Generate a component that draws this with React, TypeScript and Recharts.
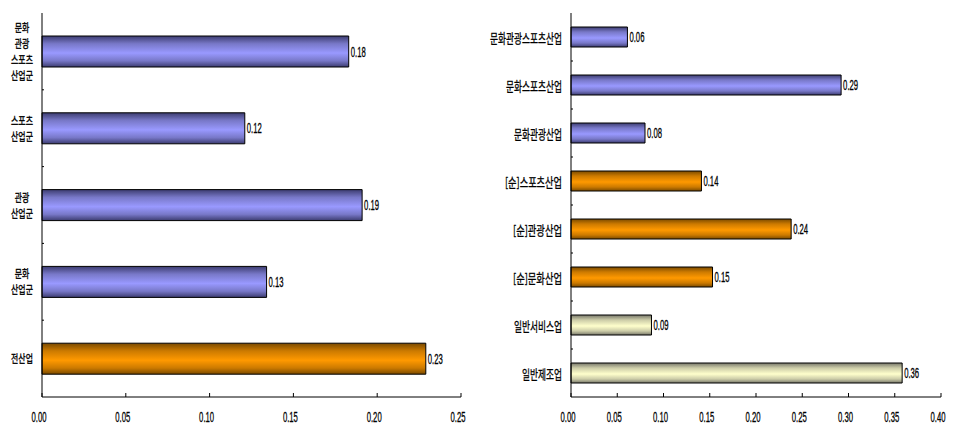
import React from 'react'
import { Bar, BarChart, Cell, LabelList, XAxis, YAxis } from 'recharts'

// 왼쪽: 산업군별
const leftCategories = ['문화\n관광\n스포츠\n산업군', '스포츠\n산업군', '관광\n산업군', '문화\n산업군', '전산업']
const leftValues = [0.183, 0.121, 0.191, 0.134, 0.229]
const leftKinds = ['blue', 'blue', 'blue', 'blue', 'orange']
const leftTicks = [0, 0.05, 0.1, 0.15, 0.2, 0.25]

// 오른쪽: 세부 산업
const rightCategories = [
  '문화관광스포츠산업',
  '문화스포츠산업',
  '문화관광산업',
  '[순]스포츠산업',
  '[순]관광산업',
  '[순]문화산업',
  '일반서비스업',
  '일반제조업',
]
const rightValues = [0.061, 0.292, 0.08, 0.141, 0.238, 0.153, 0.087, 0.358]
const rightKinds = ['blue', 'blue', 'blue', 'orange', 'orange', 'orange', 'cream', 'cream']
const rightTicks = [0, 0.05, 0.1, 0.15, 0.2, 0.25, 0.3, 0.35, 0.4]

const CHART_W = 480
const CHART_H = 440
const TOP = 13
const X_AXIS_H = 43
const PLOT_H = CHART_H - TOP - X_AXIS_H

const KO_FONT = '"Noto Sans CJK KR", sans-serif'
const NUM_FONT = '"Liberation Sans", Arial, sans-serif'

const palette: Record<string, [string, string, string]> = {
  blue: ['#3c3c70', '#7878c8', '#9999ff'],
  orange: ['#7a4a00', '#cc7a00', '#ff9900'],
  cream: ['#77776a', '#cccca8', '#ffffcc'],
}

// 좁은 글꼴 흉내: 글자 폭 추정
const textWidth = (s: string) => {
  let w = 0
  for (const ch of s) {
    if (/[0-9]/.test(ch)) w += 4.2
    else if (ch === '.') w += 2.4
    else if (ch === '[' || ch === ']') w += 4.5
    else w += 8
  }
  return w
}

const Narrow = (p: { x: number; y: number; text: string; anchor: 'start' | 'middle' | 'end'; size: number; family: string }) => (
  <text
    x={p.x}
    y={p.y}
    textAnchor={p.anchor}
    dominantBaseline="central"
    fontSize={p.size}
    fontFamily={p.family}
    fill="#000"
    stroke="#000"
    strokeWidth={0.3}
    textLength={textWidth(p.text)}
    lengthAdjust="spacingAndGlyphs"
  >
    {p.text}
  </text>
)

// 여러 줄 라벨: 한 text 안에 tspan, 가로로 압축
const MultiLine = (p: { x: number; y: number; lines: string[]; size: number; lineH: number }) => (
  <g transform={`translate(${p.x},${p.y}) scale(0.72,1)`}>
    <text
      textAnchor="middle"
      fontSize={p.size}
      fontFamily={KO_FONT}
      fill="#000"
      stroke="#000"
      strokeWidth={0.35}
    >
      {p.lines.map((ln, i) => (
        <tspan key={i} x={0} y={(i - (p.lines.length - 1) / 2) * p.lineH} dominantBaseline="central">
          {ln}
        </tspan>
      ))}
    </text>
  </g>
)

const Gradients = ({ prefix }: { prefix: string }) => (
  <defs>
    {Object.keys(palette).map((k) => {
      const [dark, mid, light] = palette[k]
      return (
        <linearGradient key={k} id={`${prefix}-${k}`} x1="0" y1="0" x2="0" y2="1">
          <stop offset="0%" stopColor={dark} />
          <stop offset="25%" stopColor={mid} />
          <stop offset="55%" stopColor={light} />
          <stop offset="80%" stopColor={mid} />
          <stop offset="100%" stopColor={dark} />
        </linearGradient>
      )
    })}
  </defs>
)

const makeYTick = (count: number, centered: boolean) => (props: any) => {
  const { x, y, payload, index } = props
  const label = String(payload.value)
  const band = PLOT_H / count
  return (
    <g>
      {centered ? (
        <MultiLine x={x - 20} y={y} lines={label.split('\n')} size={11} lineH={16} />
      ) : (
        <Narrow x={x - 9} y={y} text={label} anchor="end" size={13} family={KO_FONT} />
      )}
      {index < count - 1 && (
        <line x1={x} x2={x + 2} y1={y + band / 2} y2={y + band / 2} stroke="#000" />
      )}
    </g>
  )
}

const XTick = (props: any) => {
  const { x, y, payload } = props
  return <Narrow x={x - 3} y={y + 24} text={Number(payload.value).toFixed(2)} anchor="middle" size={14} family={NUM_FONT} />
}

const ValueLabel = (props: any) => {
  const { x, y, width, height, value } = props
  return (
    <Narrow
      x={x + width + 2}
      y={y + height / 2}
      text={Number(value).toFixed(2)}
      anchor="start"
      size={14}
      family={NUM_FONT}
    />
  )
}

interface PanelProps {
  prefix: string
  categories: string[]
  values: number[]
  kinds: string[]
  ticks: number[]
  yWidth: number
  barSize: number
  centered: boolean
}

const Panel: React.FC<PanelProps> = ({ prefix, categories, values, kinds, ticks, yWidth, barSize, centered }) => {
  const data = categories.map((name, i) => ({ name, value: values[i], kind: kinds[i] }))
  return (
    <BarChart
      width={CHART_W}
      height={CHART_H}
      data={data}
      layout="vertical"
      margin={{ top: TOP, right: 19, bottom: 0, left: 0 }}
    >
      <Gradients prefix={prefix} />
      <XAxis
        type="number"
        domain={[ticks[0], ticks[ticks.length - 1]]}
        ticks={ticks}
        height={X_AXIS_H}
        axisLine={{ stroke: '#000' }}
        tickLine={{ stroke: '#000' }}
        tickSize={-4}
        tickMargin={0}
        tick={<XTick />}
        interval={0}
      />
      <YAxis
        type="category"
        dataKey="name"
        width={yWidth}
        axisLine={{ stroke: '#000' }}
        tickLine={false}
        tickSize={0}
        tickMargin={0}
        tick={makeYTick(categories.length, centered)}
        interval={0}
      />
      <Bar dataKey="value" barSize={barSize} stroke="#000" strokeWidth={1} isAnimationActive={false}>
        {data.map((d, i) => (
          <Cell key={i} fill={`url(#${prefix}-${d.kind})`} />
        ))}
        <LabelList dataKey="value" content={<ValueLabel />} />
      </Bar>
    </BarChart>
  )
}

export default function App() {
  return (
    <div style={{ position: 'absolute', left: 0, top: 0, width: 960, height: 440, background: '#fff', display: 'flex' }}>
      <Panel
        prefix="l"
        categories={leftCategories}
        values={leftValues}
        kinds={leftKinds}
        ticks={leftTicks}
        yWidth={42}
        barSize={31}
        centered
      />
      <Panel
        prefix="r"
        categories={rightCategories}
        values={rightValues}
        kinds={rightKinds}
        ticks={rightTicks}
        yWidth={91}
        barSize={20}
        centered={false}
      />
    </div>
  )
}
